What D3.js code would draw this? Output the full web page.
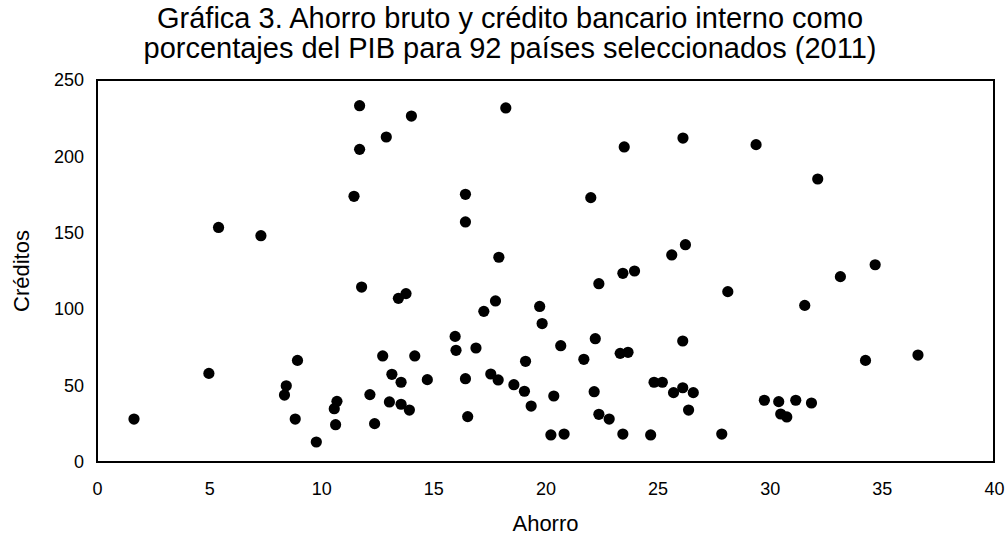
<!DOCTYPE html>
<html><head><meta charset="utf-8">
<script src="https://cdn.jsdelivr.net/npm/d3@7"></script>
<style>body{margin:0;background:#fff}svg{display:block}text{font-family:"Liberation Sans",Arial,sans-serif;fill:#000}</style>
</head><body><svg id="c" width="1008" height="535"></svg>
<script>
const titleLines = ["Gráfica 3. Ahorro bruto y crédito bancario interno como", "porcentajes del PIB para 92 países seleccionados (2011)"];
const xLabel = "Ahorro";
const yLabel = "Créditos";
const xTicks = [0,5,10,15,20,25,30,35,40];
const yTicks = [0,50,100,150,200,250];
const ahorro = [1.65,4.99,5.42,7.31,8.36,8.44,8.84,8.94,9.78,10.58,10.64,10.70,11.46,11.71,11.71,11.80,12.17,12.38,12.74,12.90,13.04,13.15,13.44,13.56,13.56,13.78,13.93,14.02,14.17,14.73,15.97,16.01,16.43,16.43,16.43,16.53,16.90,17.25,17.56,17.77,17.89,17.92,18.23,18.59,19.06,19.11,19.36,19.74,19.85,20.24,20.37,20.68,20.83,21.71,22.02,22.17,22.22,22.38,22.38,22.84,23.33,23.45,23.45,23.51,23.68,23.97,24.69,24.84,25.21,25.63,25.71,26.12,26.12,26.13,26.24,26.38,26.59,27.86,28.13,29.39,29.76,30.40,30.49,30.76,31.16,31.56,31.86,32.14,33.15,34.27,34.70,36.61];
const creditos = [28.1,58.0,153.5,148.1,43.8,49.9,28.1,66.5,13.1,34.9,24.4,39.7,173.9,233.2,204.6,114.5,44.1,25.1,69.4,212.7,39.3,57.4,107.1,52.2,37.8,110.2,34.0,226.4,69.4,53.9,82.2,73.1,175.2,157.1,54.5,29.7,74.6,98.6,57.6,105.4,53.7,134.0,231.7,50.6,46.3,65.9,36.6,101.8,90.6,17.7,43.2,76.1,18.3,67.2,173.0,46.0,80.7,116.7,31.2,28.1,71.1,123.5,18.3,206.2,71.8,125.0,17.7,52.2,52.2,135.5,45.4,79.2,48.6,212.0,142.2,34.0,45.4,18.3,111.5,207.7,40.4,39.5,31.4,29.5,40.4,102.5,38.6,185.2,121.3,66.5,129.1,70.0];

const svg = d3.select("#c");
const L=97, R=994, T=80, B=462;
const x = d3.scaleLinear().domain([0,40]).range([L,R]);
const y = d3.scaleLinear().domain([0,250]).range([B,T]);

svg.append("g").selectAll("text").data(titleLines).join("text")
  .attr("x",510).attr("y",(d,i)=>28+i*30).attr("text-anchor","middle")
  .style("font-size","29px").text(d=>d);

svg.append("g").attr("transform",`translate(0,${B})`)
  .call(d3.axisBottom(x).tickValues(xTicks).tickSize(0).tickPadding(20).tickFormat(d3.format("d")))
  .call(g=>g.select(".domain").remove())
  .selectAll("text").style("font-size","18px").attr("font-family",null);
svg.append("g").attr("transform",`translate(${L},0)`)
  .call(d3.axisLeft(y).tickValues(yTicks).tickSize(0).tickPadding(13).tickFormat(d3.format("d")))
  .call(g=>g.select(".domain").remove())
  .selectAll("text").style("font-size","18px").attr("font-family",null);

svg.append("rect").attr("x",L).attr("y",T).attr("width",R-L).attr("height",B-T)
  .attr("fill","none").attr("stroke","#000").attr("stroke-width",2);

svg.append("g").selectAll("circle").data(ahorro).join("circle")
  .attr("cx",d=>x(d)).attr("cy",(d,i)=>y(creditos[i])).attr("r",5.6).attr("fill","#000");

svg.append("text").attr("x",(L+R)/2).attr("y",531).attr("text-anchor","middle")
  .style("font-size","22px").text(xLabel);
svg.append("text").attr("transform",`translate(29,${(T+B)/2}) rotate(-90)`).attr("text-anchor","middle")
  .style("font-size","22px").text(yLabel);
</script></body></html>
